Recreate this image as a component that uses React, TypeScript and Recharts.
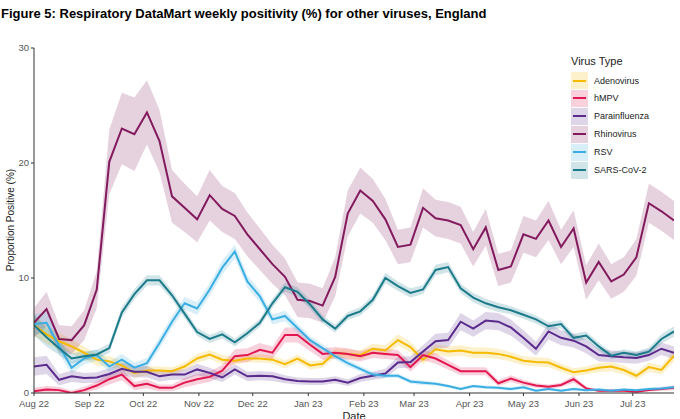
import React from 'react';
import { ComposedChart, Line, Area, XAxis, YAxis, Label } from 'recharts';

const FONT = '"Liberation Sans", Arial, Helvetica, sans-serif';

// Weekly series (proportion positive, %), first week starting 1 Aug 2022
const adenovirus = [5.9,5.1,4.5,4.05,3.5,2.9,2.75,2.4,1.75,1.95,1.95,1.9,2.3,3.0,3.35,2.9,2.8,3.0,3.0,2.9,2.5,3.0,2.4,2.55,3.5,3.4,3.3,3.85,3.7,4.6,4.0,2.9,3.8,3.6,3.7,3.5,3.5,3.4,3.15,2.8,2.7,2.65,2.2,1.8,1.95,2.2,2.3,2.0,1.5,2.25,2.0,3.25];
const hmpv = [0.15,0.3,0.25,0.0,0.25,0.65,1.2,1.6,0.6,0.8,0.45,0.45,0.9,1.2,1.4,1.95,3.2,3.3,3.75,3.5,5.05,5.05,4.2,3.4,3.5,3.4,3.2,3.5,3.4,3.3,2.25,3.3,3.0,2.45,1.9,1.9,1.9,0.85,1.25,0.9,0.65,0.55,0.7,1.2,0.4,0.2,0.2,0.2,0.1,0.25,0.35,0.45];
const parainfluenza = [2.3,2.45,1.15,1.45,1.3,1.35,1.65,2.1,1.85,1.85,1.45,1.6,1.6,2.05,1.75,1.35,2.05,1.45,1.5,1.45,1.2,1.05,1.0,1.0,1.15,0.9,1.3,1.5,1.7,2.65,2.7,3.6,4.5,4.6,6.2,5.6,6.3,6.2,5.7,4.8,3.85,5.35,4.8,4.55,4.05,3.3,3.2,3.1,3.05,3.3,3.85,3.5];
const rhinovirus = [6.1,7.3,4.7,4.6,5.9,9.0,20.1,23.0,22.5,24.4,21.9,17.1,16.1,15.1,17.2,16.0,15.4,13.8,12.5,11.2,10.1,8.1,8.0,7.6,10.1,15.6,17.6,16.7,15.1,12.7,12.9,16.1,15.2,15.0,14.6,12.5,14.4,10.7,11.0,13.8,13.4,15.0,12.7,14.3,9.6,11.4,9.7,10.3,11.8,16.5,15.8,15.0];
const rsv = [6.0,6.1,4.1,2.2,3.0,3.3,2.3,2.9,2.2,2.6,4.35,6.2,7.8,7.35,9.0,10.9,12.3,9.7,8.4,6.4,6.7,5.65,4.6,3.9,3.2,2.6,2.1,1.6,1.5,1.5,1.0,0.9,0.8,0.6,0.35,0.6,0.5,0.45,0.35,0.5,0.2,0.35,0.2,0.35,0.25,0.3,0.2,0.3,0.25,0.35,0.4,0.5];
const sarsCov2 = [5.9,4.85,3.9,3.0,3.2,3.35,3.9,7.0,8.6,9.8,9.8,8.5,6.9,5.3,4.7,5.1,4.4,5.2,6.1,7.8,9.2,8.8,7.7,6.4,5.6,6.7,7.1,8.1,10.0,9.3,8.7,9.0,10.7,10.95,9.1,8.3,7.8,7.45,7.2,6.8,6.4,5.8,6.0,4.8,5.0,4.05,3.25,3.5,3.3,3.6,4.7,5.35];

// Confidence interval half-widths (read from the shaded ribbons)
const adenovirusCI = [0.9,0.8,0.7,0.6,0.55,0.5,0.45,0.45,0.4,0.4,0.35,0.35,0.35,0.4,0.4,0.4,0.35,0.35,0.35,0.35,0.35,0.35,0.35,0.35,0.4,0.4,0.4,0.45,0.45,0.5,0.45,0.4,0.45,0.45,0.45,0.45,0.45,0.45,0.4,0.4,0.4,0.4,0.35,0.35,0.35,0.4,0.4,0.4,0.35,0.4,0.4,0.5];
const hmpvCI = [0.3,0.3,0.3,0.2,0.3,0.35,0.45,0.5,0.35,0.4,0.3,0.3,0.4,0.45,0.45,0.5,0.6,0.6,0.6,0.55,0.65,0.65,0.55,0.5,0.5,0.5,0.45,0.45,0.45,0.45,0.4,0.45,0.45,0.4,0.35,0.35,0.35,0.25,0.3,0.25,0.2,0.2,0.2,0.3,0.15,0.1,0.1,0.1,0.1,0.12,0.15,0.2];
const parainfluenzaCI = [0.8,0.8,0.5,0.5,0.45,0.45,0.5,0.55,0.5,0.5,0.45,0.45,0.45,0.5,0.45,0.4,0.45,0.4,0.4,0.4,0.35,0.3,0.3,0.3,0.3,0.3,0.35,0.35,0.4,0.5,0.5,0.55,0.65,0.65,0.75,0.7,0.75,0.75,0.7,0.65,0.6,0.7,0.65,0.6,0.6,0.55,0.5,0.5,0.5,0.5,0.55,0.55];
const rhinovirusCI = [1.3,1.5,1.2,1.2,1.3,1.6,2.8,3.1,3.2,2.8,2.7,2.3,2.1,2.0,2.2,2.0,2.0,1.9,1.8,1.7,1.6,1.5,1.5,1.5,1.7,2.0,2.0,1.9,1.8,1.5,1.5,1.7,1.6,1.6,1.6,1.5,1.6,1.4,1.4,1.6,1.6,1.7,1.5,1.6,1.5,1.6,1.5,1.5,1.6,1.7,1.7,1.7];
const rsvCI = [0.9,0.9,0.7,0.5,0.5,0.5,0.45,0.5,0.45,0.45,0.5,0.5,0.55,0.55,0.55,0.6,0.6,0.55,0.5,0.45,0.45,0.4,0.35,0.35,0.3,0.3,0.25,0.25,0.2,0.2,0.2,0.2,0.15,0.15,0.15,0.15,0.15,0.15,0.15,0.15,0.12,0.12,0.12,0.12,0.12,0.12,0.12,0.12,0.12,0.12,0.15,0.15];
const sarsCov2CI = [0.9,0.8,0.6,0.45,0.4,0.4,0.4,0.45,0.45,0.45,0.45,0.4,0.4,0.35,0.35,0.35,0.35,0.35,0.35,0.4,0.4,0.4,0.4,0.35,0.35,0.35,0.35,0.4,0.45,0.4,0.4,0.4,0.45,0.45,0.4,0.4,0.4,0.4,0.35,0.35,0.35,0.35,0.35,0.35,0.35,0.35,0.3,0.3,0.3,0.35,0.4,0.45];

const seriesNames = ['Adenovirus', 'hMPV', 'Parainfluenza', 'Rhinovirus', 'RSV', 'SARS-CoV-2'];
const seriesColors = ['#F6BA00', '#E3174F', '#5A2B8D', '#821A5D', '#3AAEE2', '#1B7B8A'];
const seriesValues = [adenovirus, hmpv, parainfluenza, rhinovirus, rsv, sarsCov2];
const seriesCI = [adenovirusCI, hmpvCI, parainfluenzaCI, rhinovirusCI, rsvCI, sarsCov2CI];

const monthTickDates = ['2022-08-01','2022-09-01','2022-10-01','2022-11-01','2022-12-01','2023-01-01','2023-02-01','2023-03-01','2023-04-01','2023-05-01','2023-06-01','2023-07-01'];
const monthTickLabels = ['Aug 22','Sep 22','Oct 22','Nov 22','Dec 22','Jan 23','Feb 23','Mar 23','Apr 23','May 23','Jun 23','Jul 23'];
const yTicks = [0, 10, 20, 30];

const START = Date.UTC(2022, 7, 1);
const DAY = 86400000;
const toDay = (iso: string) => Math.round((Date.parse(iso + 'T00:00:00Z') - START) / DAY);
const tickDays = monthTickDates.map(toDay);
const tickLabelByDay: Record<number, string> = {};
tickDays.forEach((d, i) => { tickLabelByDay[d] = monthTickLabels[i]; });

const rows = adenovirus.map((_, i) => {
  const row: any = { day: i * 7 };
  seriesValues.forEach((vals, s) => {
    row['s' + s] = vals[i];
    row['b' + s] = [Math.max(0, vals[i] - seriesCI[s][i]), vals[i] + seriesCI[s][i]];
  });
  return row;
});
const lastDay = (adenovirus.length - 1) * 7;

const hexToRgba = (hex: string, a: number) => {
  const n = parseInt(hex.slice(1), 16);
  return `rgba(${(n >> 16) & 255},${(n >> 8) & 255},${n & 255},${a})`;
};

const BAND_OPACITY = 0.2;

export default function App() {
  return (
    <div style={{ position: 'absolute', left: 0, top: 0, width: 680, height: 419, background: '#fff', fontFamily: FONT, overflow: 'hidden' }}>
      <div style={{ position: 'absolute', left: 1, top: 7, fontSize: 13, lineHeight: '14px', fontWeight: 'bold', color: '#000', whiteSpace: 'nowrap' }}>
        Figure 5: Respiratory DataMart weekly positivity (%) for other viruses, England
      </div>
      <ComposedChart width={680} height={419} data={rows} margin={{ top: 48, right: 6, bottom: 0, left: 0 }} style={{ position: 'absolute', left: 0, top: 0 }}>
        <XAxis
          type="number"
          dataKey="day"
          domain={[0, lastDay]}
          ticks={tickDays}
          tickFormatter={(d: number) => tickLabelByDay[d] ?? ''}
          interval={0}
          height={26}
          tickSize={3}
          tickMargin={4}
          stroke="#333"
          tick={{ fill: '#555', fontSize: 9.5, fontFamily: FONT }}
          allowDataOverflow
        >
          <Label value="Date" position="insideBottom" offset={-1} style={{ fill: '#222', fontSize: 11, fontFamily: FONT }} />
        </XAxis>
        <YAxis
          type="number"
          domain={[0, 30]}
          ticks={yTicks}
          interval={0}
          width={34}
          tickSize={3}
          tickMargin={2}
          stroke="#333"
          tick={{ fill: '#555', fontSize: 9.5, fontFamily: FONT }}
          allowDataOverflow
        >
          <Label
            content={() => (
              <text x={11} y={220} transform="rotate(-90 11 220)" textAnchor="middle" dominantBaseline="middle" fill="#222" fontSize={10} fontFamily={FONT}>
                Proportion Positive (%)
              </text>
            )}
          />
        </YAxis>
        {seriesNames.map((name, s) => (
          <Area
            key={'band' + s}
            type="linear"
            dataKey={'b' + s}
            stroke="none"
            fill={seriesColors[s]}
            fillOpacity={BAND_OPACITY}
            isAnimationActive={false}
            legendType="none"
            activeDot={false}
          />
        ))}
        {seriesNames.map((name, s) => (
          <Line
            key={'line' + s}
            type="linear"
            dataKey={'s' + s}
            name={name}
            stroke={seriesColors[s]}
            strokeWidth={2}
            dot={false}
            activeDot={false}
            isAnimationActive={false}
          />
        ))}
      </ComposedChart>
      <div style={{ position: 'absolute', left: 571, top: 56, fontSize: 11, lineHeight: '11px', color: '#222', whiteSpace: 'nowrap' }}>Virus Type</div>
      {seriesNames.map((name, s) => (
        <div key={name} style={{ position: 'absolute', left: 571, top: 72 + s * 17.9, height: 17, display: 'flex', alignItems: 'center' }}>
          <div style={{ width: 17, height: 17, background: hexToRgba(seriesColors[s], BAND_OPACITY), position: 'relative' }}>
            <div style={{ position: 'absolute', left: 2, right: 2, top: 7.5, height: 2, background: seriesColors[s] }} />
          </div>
          <div style={{ marginLeft: 6, fontSize: 9, color: '#222', whiteSpace: 'nowrap' }}>{name}</div>
        </div>
      ))}
    </div>
  );
}
